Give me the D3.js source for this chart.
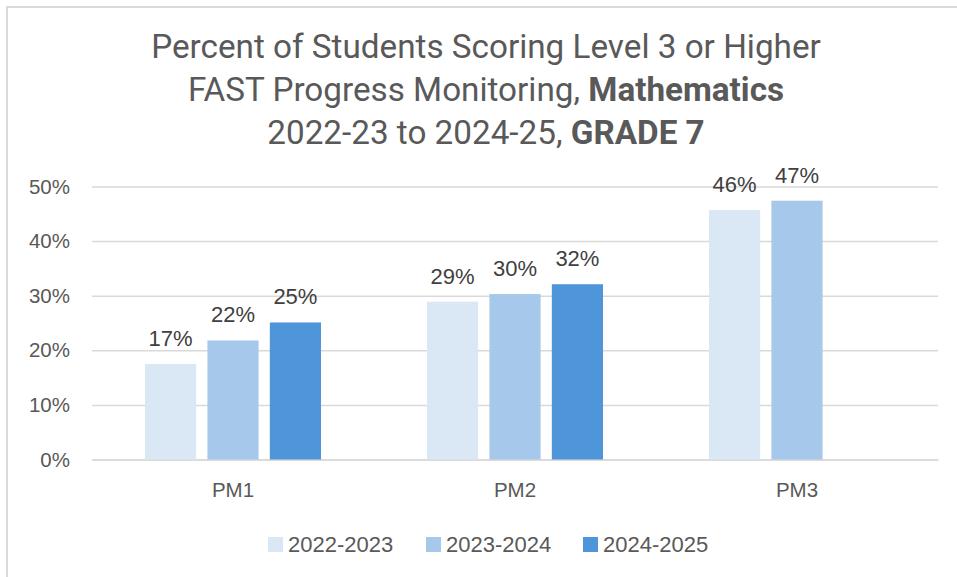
<!DOCTYPE html>
<html>
<head>
<meta charset="utf-8">
<script src="https://cdn.jsdelivr.net/npm/d3@7"></script>
<style>
  html, body { margin: 0; padding: 0; background: #fff; }
  svg { display: block; }
</style>
</head>
<body>
<svg id="chart" width="957" height="577"></svg>
<script>
const categories = ["PM1", "PM2", "PM3"];
const seriesNames = ["2022-2023", "2023-2024", "2024-2025"];
const values2022 = [17.5, 28.9, 45.7];
const values2023 = [21.8, 30.3, 47.4];
const values2024 = [25.1, 32.1, null];
const labels2022 = ["17%", "29%", "46%"];
const labels2023 = ["22%", "30%", "47%"];
const labels2024 = ["25%", "32%", null];
const yTicks = [0, 10, 20, 30, 40, 50];
const colors = ["#dae8f6", "#a6c9eb", "#4e95d9"];

const seriesValues = [values2022, values2023, values2024];
const seriesLabels = [labels2022, labels2023, labels2024];

const svg = d3.select("#chart");
const W = 957, H = 577;
const FONT = "'Liberation Sans', Arial, sans-serif";

// outer border
svg.append("rect")
  .attr("x", 7).attr("y", 7).attr("width", W + 10).attr("height", H + 10)
  .attr("fill", "#fff").attr("stroke", "#d9d9d9").attr("stroke-width", 2);

const plot = { left: 92, right: 938, top: 186.5, bottom: 459.5 };

const x = d3.scaleBand().domain(categories).range([plot.left, plot.right]).paddingInner(0).paddingOuter(0);
const xs = d3.scaleBand().domain(seriesNames).range([0, 176]).paddingInner(0.18).paddingOuter(0);
const groupOffset = (x.bandwidth() - 176) / 2;
const y = d3.scaleLinear().domain([0, 50]).range([plot.bottom, plot.top]);

// Title
const title = svg.append("g").attr("font-family", "Roboto, 'Liberation Sans', sans-serif")
  .attr("fill", "#595959").attr("font-size", 28.5).attr("text-anchor", "middle");
const t1 = title.append("text").attr("x", 486).attr("y", 58);
t1.append("tspan").text("Percent of Students Scoring Level 3 or Higher");
const t2 = title.append("text").attr("x", 486).attr("y", 101);
t2.append("tspan").text("FAST Progress Monitoring, ");
t2.append("tspan").attr("font-weight", "bold").text("Mathematics");
const t3 = title.append("text").attr("x", 486).attr("y", 144);
t3.append("tspan").text("2022-23 to 2024-25, ");
t3.append("tspan").attr("font-weight", "bold").text("GRADE 7");
// fit title width to the reference line width (~670px)
const w1 = t1.node().getComputedTextLength();
if (w1 > 0) title.attr("font-size", 28.5 * 670 / w1);

// Gridlines via axis
const yAxis = d3.axisLeft(y).tickValues(yTicks).tickSize(-(plot.right - plot.left)).tickFormat(d => d + "%").tickPadding(22);
const gy = svg.append("g").attr("transform", `translate(${plot.left},0)`).call(yAxis);
gy.select(".domain").remove();
gy.selectAll(".tick line").attr("stroke", "#d9d9d9").attr("stroke-width", 1.5);
gy.selectAll(".tick text").attr("fill", "#595959").attr("font-size", 20.5)
  .attr("font-family", FONT);

// X axis
const xAxis = d3.axisBottom(x).tickSize(0).tickPadding(23);
const gx = svg.append("g").attr("transform", `translate(0,${plot.bottom})`).call(xAxis);
gx.select(".domain").attr("stroke", "#d9d9d9").attr("stroke-width", 1.5);
gx.selectAll(".tick text").attr("fill", "#595959").attr("font-size", 20.5)
  .attr("font-family", FONT).attr("dy", 0).attr("y", 37.5);

// Bars
seriesNames.forEach((s, si) => {
  const g = svg.append("g");
  categories.forEach((c, ci) => {
    const v = seriesValues[si][ci];
    if (v == null) return;
    const bx = x(c) + groupOffset + xs(s);
    g.append("rect")
      .attr("x", bx).attr("y", y(v))
      .attr("width", xs.bandwidth()).attr("height", y(0) - y(v))
      .attr("fill", colors[si]);
    g.append("text")
      .attr("x", bx + xs.bandwidth() / 2).attr("y", y(v) - 18)
      .attr("text-anchor", "middle")
      .attr("font-family", FONT)
      .attr("font-size", 22).attr("fill", "#404040")
      .text(seriesLabels[si][ci]);
  });
});

// Legend
const legendX = [268, 426, 583];
const leg = svg.append("g");
seriesNames.forEach((s, i) => {
  leg.append("rect").attr("x", legendX[i]).attr("y", 537).attr("width", 15).attr("height", 15).attr("fill", colors[i]);
  leg.append("text").attr("x", legendX[i] + 20).attr("y", 552)
    .attr("font-family", FONT)
    .attr("font-size", 22).attr("fill", "#595959").text(s);
});
</script>
</body>
</html>
